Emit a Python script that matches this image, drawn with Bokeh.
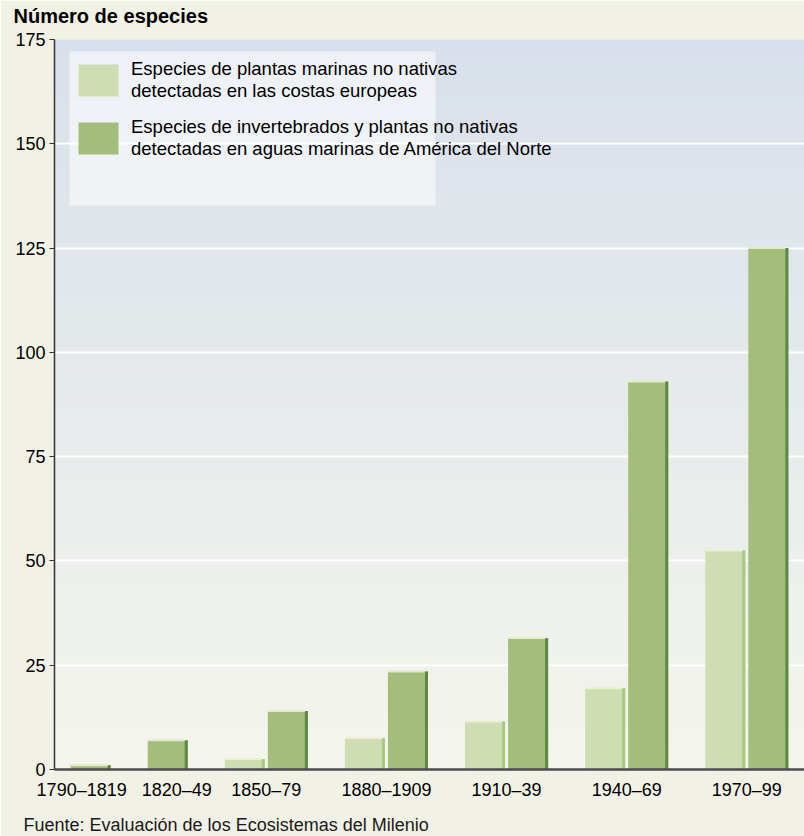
from bokeh.plotting import figure
from bokeh.models import (FactorRange, Range1d, BoxAnnotation, Legend, LegendItem,
                          Title, ColumnDataSource, FixedTicker)
from bokeh.embed import file_html
from bokeh.resources import INLINE

# Non-native species detected per 30-year period
periods = ["1790–1819", "1820–49", "1850–79", "1880–1909", "1910–39", "1940–69", "1970–99"]
europe_plants = [0, 0, 2.5, 7.5, 11.5, 19.5, 52.5]
north_america = [1, 7, 14, 23.5, 31.5, 93, 125]
y_ticks = [0, 25, 50, 75, 100, 125, 150, 175]
series_labels = [
    "Especies de plantas marinas no nativas\ndetectadas en las costas europeas",
    "Especies de invertebrados y plantas no nativas\ndetectadas en aguas marinas de América del Norte",
]
title_text = "Número de especies"
source_text = "Fuente: Evaluación de los Ecosistemas del Milenio"

FONT = "Liberation Sans"
EU_FRONT, EU_SIDE, EU_CAP = "#cfddb2", "#a8c97f", "#e9f0d0"
NA_FRONT, NA_SIDE, NA_CAP = "#a3bd7a", "#5b8a47", "#e2ecc8"

# the first two periods only hold one narrow bar each, so their names are
# nudged apart with an em space to keep the labels from touching
label_pad = {0: ("", "\u2003"), 1: ("\u2003", "")}
group_names = [label_pad.get(i, ("", ""))[0] + pd + label_pad.get(i, ("", ""))[1]
               for i, pd in enumerate(periods)]

# nested factors: a period only gets a European slot when it has a value
factors = []
for g, eu in zip(group_names, europe_plants):
    if eu > 0:
        factors.append((g, "EU"))
    factors.append((g, "NA"))

x_range = FactorRange(factors=factors, group_padding=0.79,
                      range_padding=0.34, range_padding_units="absolute")

p = figure(width=804, height=836, x_range=x_range, y_range=Range1d(0, 175),
           output_backend="svg", toolbar_location=None,
           min_border_left=54, min_border_right=0, min_border_top=39, min_border_bottom=67)

p.border_fill_color = "#f2f1e6"
p.background_fill_color = "#f3f5ec"
p.outline_line_color = None

# vertical gradient behind the bars
top_rgb = (0xd8, 0xe0, 0xeb)
bot_rgb = (0xf4, 0xf5, 0xec)
n_bands = 70
for i in range(n_bands):
    t = (i + 0.5) / n_bands
    rgb = tuple(int(round(b + (a - b) * t)) for a, b in zip(top_rgb, bot_rgb))
    p.add_layout(BoxAnnotation(bottom=175 * i / n_bands, top=175 * (i + 1) / n_bands + 0.2,
                               fill_color="#%02x%02x%02x" % rgb, fill_alpha=1,
                               line_color=None, level="image"))


def draw_series(keys, values, front, side, cap):
    src = ColumnDataSource(dict(
        x=[(k, s) for k, s in keys],
        xs=[(k, s, 0.43) for k, s in keys],
        x0=[(k, s, -0.465) for k, s in keys],
        x1=[(k, s, 0.395) for k, s in keys],
        top=values,
    ))
    r = p.vbar(x="x", top="top", bottom=0, width=0.93, source=src,
               fill_color=front, line_color=None)
    p.vbar(x="xs", top="top", bottom=0, width=0.07, source=src,
           fill_color=side, line_color=None)
    p.segment(x0="x0", x1="x1", y0="top", y1="top", source=src,
              line_color=cap, line_width=2)
    return r


eu_keys = [(g, "EU") for g, v in zip(group_names, europe_plants) if v > 0]
eu_vals = [v for v in europe_plants if v > 0]
na_keys = [(g, "NA") for g in group_names]

eu_r = draw_series(eu_keys, eu_vals, EU_FRONT, EU_SIDE, EU_CAP)
na_r = draw_series(na_keys, north_america, NA_FRONT, NA_SIDE, NA_CAP)

# grid
p.xgrid.grid_line_color = None
p.ygrid.ticker = FixedTicker(ticks=y_ticks)
p.ygrid.grid_line_color = "white"
p.ygrid.grid_line_width = 2

# y axis
p.yaxis.ticker = FixedTicker(ticks=y_ticks)
p.yaxis.axis_line_color = "#333333"
p.yaxis.axis_line_width = 1.5
p.yaxis.major_tick_line_color = "#333333"
p.yaxis.major_tick_out = 5
p.yaxis.major_tick_in = 0
p.yaxis.minor_tick_line_color = None
p.yaxis.major_label_text_font = FONT
p.yaxis.major_label_text_font_size = "18px"
p.yaxis.major_label_text_color = "black"
p.yaxis.major_label_standoff = 4

# x axis: only the period names are shown
xa = p.xaxis[0]
xa.axis_line_color = "#4d4d4d"
xa.axis_line_width = 2.5
xa.major_tick_line_color = None
xa.minor_tick_line_color = None
xa.major_label_text_alpha = 0
xa.major_label_text_font_size = "1px"
xa.major_label_standoff = 4
xa.separator_line_color = None
xa.group_text_font = FONT
xa.group_text_font_size = "18px"
xa.group_text_color = "black"
xa.group_text_font_style = "normal"

# legend panel and legend
p.add_layout(BoxAnnotation(left=15, right=381, top=718, bottom=564,
                           left_units="screen", right_units="screen",
                           top_units="screen", bottom_units="screen",
                           fill_color="white", fill_alpha=0.55, line_color=None))

legend = Legend(items=[LegendItem(label=series_labels[0], renderers=[eu_r]),
                       LegendItem(label=series_labels[1], renderers=[na_r])],
                location=(19, 604), orientation="vertical",
                background_fill_alpha=0, border_line_color=None,
                label_text_font=FONT, label_text_font_size="18.5px",
                label_text_color="black", label_text_line_height=1.12,
                glyph_width=50, glyph_height=40, label_height=54, label_standoff=8,
                spacing=4, padding=0, margin=0, click_policy="none")
p.add_layout(legend)

# heading above the value axis (extra room below it keeps it near the top edge)
p.title.text = title_text
p.title.align = "left"
p.title.offset = -41
p.title.standoff = 0
p.title.padding = (0, 0, 0, 13)
p.title.text_font = FONT
p.title.text_font_size = "20px"
p.title.text_font_style = "bold"
p.title.text_color = "black"

# source note under the chart
p.add_layout(Title(text=source_text, align="left", offset=-31, standoff=4,
                   padding=(0, 0, 8, 0),
                   text_font=FONT, text_font_size="18px", text_font_style="normal",
                   text_color="#1a1a1a"), "below")

open("out.html", "w").write(file_html(p, INLINE))
